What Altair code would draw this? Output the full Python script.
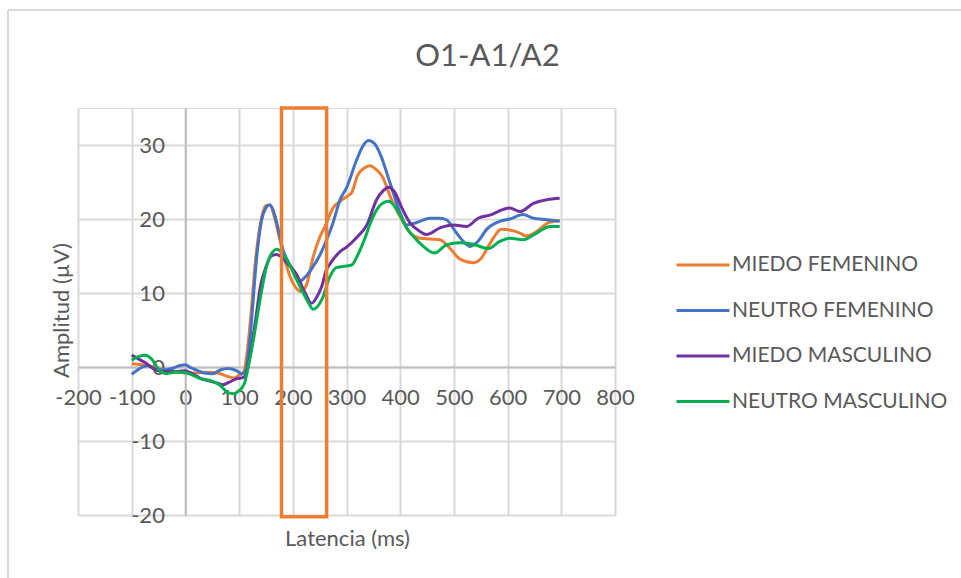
import altair as alt
import pandas as pd

# ---------------- data ----------------
series_names = ["MIEDO FEMENINO", "NEUTRO FEMENINO", "MIEDO MASCULINO", "NEUTRO MASCULINO"]
series_colors = ["#ED7D31", "#4472C4", "#7030A0", "#00B050"]

mf_t = [-100, -80, -60, -40, -20, 0, 20, 40, 60, 80, 90, 100, 108, 115, 122, 130, 140, 150, 158, 165,
        175, 185, 195, 205, 215, 225, 238, 250, 260, 275, 290, 300, 310, 320, 333, 344, 355, 366, 384,
        403, 420, 437, 455, 474, 493, 511, 536, 551, 561, 575, 588, 604, 623, 635, 654, 676, 697]
mf_v = [0.45, 0.3, 0.0, -0.4, -0.6, -0.8, -0.8, -0.7, -0.8, -1.3, -1.5, -1.1, -0.8, 2.0, 7.0, 14.0, 19.5, 21.8, 21.9, 20.5,
        17.5, 14.5, 12.2, 10.8, 10.2, 11.0, 14.9, 17.5, 19.0, 21.5, 22.5, 23.0, 23.6, 25.8, 26.9, 27.2, 26.7, 25.8, 22.6,
        19.9, 18.0, 17.4, 17.3, 17.2, 16.0, 14.6, 14.1, 14.7, 15.9, 17.6, 18.6, 18.5, 18.1, 17.7, 18.3, 19.5, 19.8]

nf_t = [-100, -85, -70, -55, -40, -25, -10, 0, 10, 20, 35, 50, 65, 80, 95, 105, 112, 120, 133, 142, 150,
        156, 163, 170, 182, 198, 213, 225, 238, 251, 263, 275, 288, 300, 319, 330, 341, 352, 362, 381,
        400, 412, 430, 455, 474, 486, 505, 520, 530, 545, 561, 586, 604, 629, 648, 673, 697]
nf_v = [-1.0, -0.2, 0.2, -0.3, -0.4, -0.2, 0.2, 0.3, -0.1, -0.4, -0.8, -0.9, -0.4, -0.2, -0.5, -0.9, -0.5, 3.7, 15.0, 19.9, 21.5,
        21.9, 21.3, 19.5, 15.8, 13.4, 11.6, 12.3, 13.6, 15.2, 17.2, 19.5, 22.6, 24.2, 28.0, 29.8, 30.6, 30.2, 28.9, 24.9,
        20.8, 19.2, 19.5, 20.1, 20.1, 19.9, 18.1, 16.8, 16.3, 17.0, 18.6, 19.7, 20.0, 20.6, 20.1, 19.9, 19.7]

mm_t = [-100, -85, -75, -60, -45, -30, -15, 0, 15, 30, 45, 60, 70, 80, 95, 108, 113, 120, 130, 140, 150,
        160, 170, 180, 190, 207, 223, 235, 245, 254, 262, 270, 288, 300, 319, 338, 356, 368, 378, 390,
        403, 418, 437, 449, 474, 499, 524, 545, 570, 592, 604, 623, 648, 673, 697]
mm_v = [1.6, 1.0, 0.6, -0.2, -0.6, -0.6, -0.6, -0.5, -1.0, -1.6, -1.9, -2.2, -2.4, -2.1, -1.6, -1.4, -1.0, 1.5, 6.0, 11.0, 13.5,
        15.0, 15.2, 14.8, 14.0, 12.5, 10.0, 8.6, 9.5, 10.9, 13.0, 14.0, 15.6, 16.2, 17.5, 19.2, 22.6, 23.8, 24.3, 23.6,
        21.5, 19.5, 18.3, 17.9, 18.8, 19.2, 19.0, 20.1, 20.6, 21.3, 21.5, 21.0, 22.1, 22.6, 22.8]

nm_t = [-100, -88, -75, -62, -50, -35, -20, -5, 10, 25, 50, 65, 80, 90, 100, 110, 117, 125, 139, 151, 162,
        170, 180, 189, 207, 226, 238, 254, 269, 280, 295, 310, 320, 331, 350, 365, 378, 390, 400, 412,
        424, 440, 464, 486, 511, 536, 564, 586, 604, 629, 654, 679, 697]
nm_v = [0.9, 1.4, 1.6, 1.0, -0.3, -0.9, -0.7, -0.7, -1.0, -1.5, -1.9, -2.5, -3.5, -3.6, -3.2, -2.2, 0.0, 3.0, 9.1, 13.6, 15.5,
        15.9, 15.4, 14.5, 11.8, 9.1, 7.8, 9.1, 12.2, 13.4, 13.6, 13.8, 15.0, 16.8, 20.4, 22.0, 22.4, 21.7, 20.5, 18.8,
        17.7, 16.5, 15.4, 16.5, 16.8, 16.6, 16.0, 17.0, 17.4, 17.2, 18.1, 19.0, 19.0]

box_t = [179, 263]          # highlighted latency window (ms)
box_v = [-20.25, 35]        # full height of the plot

x_ticks = [-200, -100, 0, 100, 200, 300, 400, 500, 600, 700, 800]
y_ticks = [-20, -10, 0, 10, 20, 30]

# ---------------- tables ----------------
rows = []
for name, ts, vs in zip(series_names, [mf_t, nf_t, mm_t, nm_t], [mf_v, nf_v, mm_v, nm_v]):
    for t, v in zip(ts, vs):
        rows.append({"serie": name, "t": t, "v": v})
df = pd.DataFrame(rows)
df_box = pd.DataFrame({"t0": [box_t[0]], "t1": [box_t[1]], "v0": [box_v[0]], "v1": [box_v[1]]})
df_one = pd.DataFrame({"k": [0]})

FONT = "Lato"
TXT = "#595959"

x_scale = alt.Scale(domain=[-200, 800], nice=False, zero=False)
y_scale = alt.Scale(domain=[-20, 35], nice=False, zero=False)

x_axis = alt.Axis(values=x_ticks, title="Latencia (ms)", offset=-148, grid=True,
                  gridColor="#d9d9d9", gridWidth=2, domainColor="#bfbfbf", domainWidth=2,
                  ticks=False, labelFont=FONT, labelFontSize=22, labelColor=TXT,
                  labelExpr="'' + datum.value",
                  labelPadding=20, labelFlush=False, labelOverlap=False,
                  titleFont=FONT, titleFontSize=22, titleColor=TXT, titleFontWeight="normal",
                  titleX=269, titleY=171, titleAlign="center", titleBaseline="middle")
y_axis = alt.Axis(values=y_ticks, title="Amplitud (µV)", offset=-107.4, grid=True,
                  gridColor="#d9d9d9", gridWidth=2, domainColor="#bfbfbf", domainWidth=2,
                  ticks=False, labelFont=FONT, labelFontSize=22, labelColor=TXT,
                  labelExpr="'' + datum.value",
                  labelPadding=21, labelFlush=False, labelOverlap=False,
                  titleFont=FONT, titleFontSize=22, titleColor=TXT, titleFontWeight="normal",
                  titleX=-124, titleY=202, titleAngle=270, titleAlign="center", titleBaseline="middle")

lines = alt.Chart(df).mark_line(strokeWidth=3, interpolate="monotone").encode(
    x=alt.X("t:Q", scale=x_scale, axis=x_axis),
    y=alt.Y("v:Q", scale=y_scale, axis=y_axis),
    color=alt.Color("serie:N", scale=alt.Scale(domain=series_names, range=series_colors),
                    sort=series_names,
                    legend=alt.Legend(title=None, orient="none", legendX=597, legendY=129,
                                      symbolType="stroke", symbolSize=2809, symbolStrokeWidth=3,
                                      labelFont=FONT, labelFontSize=21, labelColor=TXT,
                                      labelOffset=1, rowPadding=7.5, padding=0, labelLimit=400)),
)

box = alt.Chart(df_box).mark_rect(filled=False, stroke="#ED7D31", strokeWidth=3.5).encode(
    x=alt.X("t0:Q", scale=x_scale, axis=x_axis),
    x2="t1:Q",
    y=alt.Y("v0:Q", scale=y_scale, axis=y_axis),
    y2="v1:Q",
)

border_left = alt.Chart(df_one).mark_rule(color="#d9d9d9", strokeWidth=2).encode(
    x=alt.value(-70), y=alt.value(-98), y2=alt.value(480))
border_top = alt.Chart(df_one).mark_rule(color="#d9d9d9", strokeWidth=2).encode(
    x=alt.value(-70), x2=alt.value(900), y=alt.value(-98))

chart = alt.layer(border_left, border_top, lines, box).properties(
    width=537, height=407,
    title=alt.Title("O1-A1/A2", font=FONT, fontSize=31, color=TXT, fontWeight="normal",
                    anchor="middle", baseline="bottom", dx=141, dy=95, offset=0),
    autosize=alt.AutoSizeParams(type="none"),
    padding={"left": 78, "top": 108, "right": 346, "bottom": 63},
).configure_view(stroke=None).configure(background="white")

chart.save("out.html", embed_options={"renderer": "svg", "actions": False})
